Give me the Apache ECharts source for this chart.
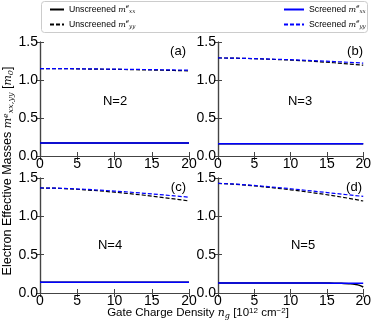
<!DOCTYPE html>
<html>
<head>
<meta charset="utf-8">
<script src="https://cdn.jsdelivr.net/npm/echarts@6/dist/echarts.min.js"></script>
<style>
  html, body { margin: 0; padding: 0; background: #fff; }
  #massChart { width: 374px; height: 324px; }
</style>
</head>
<body>
<div id="massChart"></div>
<script>
// gate charge density (10^12 cm^-2)
const gateDensity = [0, 2, 4, 6, 8, 10, 12, 14, 16, 18, 20];
const gateDensityFine = [0, 2, 4, 6, 8, 10, 12, 14, 16, 17, 18, 19, 19.5, 20];

const panelLabels = ['(a)', '(b)', '(c)', '(d)'];
const layerLabels = ['N=2', 'N=3', 'N=4', 'N=5'];

// N=2
const unscrXX2 = [0.17, 0.17, 0.17, 0.17, 0.17, 0.17, 0.17, 0.17, 0.17, 0.17, 0.17];
const unscrYY2 = [1.15, 1.15, 1.148, 1.145, 1.142, 1.14, 1.137, 1.133, 1.13, 1.125, 1.12];
const scrXX2 = [0.17, 0.17, 0.17, 0.17, 0.17, 0.17, 0.17, 0.17, 0.17, 0.17, 0.17];
const scrYY2 = [1.15, 1.15, 1.149, 1.147, 1.145, 1.143, 1.14, 1.138, 1.135, 1.132, 1.13];
// N=3
const unscrXX3 = [0.16, 0.16, 0.16, 0.16, 0.16, 0.16, 0.16, 0.16, 0.16, 0.16, 0.16];
const unscrYY3 = [1.29, 1.288, 1.283, 1.277, 1.27, 1.262, 1.252, 1.24, 1.227, 1.21, 1.195];
const scrXX3 = [0.16, 0.16, 0.16, 0.16, 0.16, 0.16, 0.16, 0.16, 0.16, 0.16, 0.16];
const scrYY3 = [1.29, 1.288, 1.284, 1.279, 1.273, 1.267, 1.26, 1.252, 1.243, 1.233, 1.222];
// N=4
const unscrXX4 = [0.14, 0.14, 0.14, 0.14, 0.14, 0.14, 0.14, 0.14, 0.14, 0.14, 0.14];
const unscrYY4 = [1.37, 1.367, 1.358, 1.346, 1.332, 1.315, 1.296, 1.275, 1.252, 1.228, 1.20];
const scrXX4 = [0.14, 0.14, 0.14, 0.14, 0.14, 0.14, 0.14, 0.14, 0.14, 0.14, 0.14];
const scrYY4 = [1.37, 1.368, 1.362, 1.353, 1.342, 1.33, 1.316, 1.3, 1.284, 1.267, 1.25];
// N=5 (unscreened xx uses the finer x grid)
const unscrXX5 = [0.13, 0.13, 0.13, 0.13, 0.13, 0.13, 0.13, 0.13, 0.128, 0.126, 0.122, 0.112, 0.1, 0.078];
const unscrYY5 = [1.43, 1.42, 1.405, 1.388, 1.368, 1.346, 1.322, 1.296, 1.268, 1.236, 1.20];
const scrXX5 = [0.13, 0.13, 0.13, 0.13, 0.13, 0.13, 0.13, 0.129, 0.128, 0.127, 0.126];
const scrYY5 = [1.43, 1.423, 1.41, 1.395, 1.378, 1.36, 1.34, 1.32, 1.3, 1.28, 1.26];

const panels = [
  { uxx: unscrXX2, uyy: unscrYY2, sxx: scrXX2, syy: scrYY2, uxxX: gateDensity },
  { uxx: unscrXX3, uyy: unscrYY3, sxx: scrXX3, syy: scrYY3, uxxX: gateDensity },
  { uxx: unscrXX4, uyy: unscrYY4, sxx: scrXX4, syy: scrYY4, uxxX: gateDensity },
  { uxx: unscrXX5, uyy: unscrYY5, sxx: scrXX5, syy: scrYY5, uxxX: gateDensityFine }
];

const grids = [
  { left: 40, top: 42, width: 149, height: 114 },
  { left: 218, top: 42, width: 147, height: 114 },
  { left: 40, top: 178, width: 149, height: 115 },
  { left: 218, top: 178, width: 147, height: 115 }
];

const FONT = 'Liberation Sans, Arial, sans-serif';
const MATH = 'DejaVu Serif, serif';
const frameColor = '#444';

const richMath = {
  m: { fontFamily: MATH, fontStyle: 'italic', fontSize: 8, color: '#000' },
  sup: { fontFamily: MATH, fontStyle: 'italic', fontSize: 5.5, color: '#000', verticalAlign: 'top', padding: [0, 0, 4, 0] },
  sub: { fontFamily: MATH, fontStyle: 'italic', fontSize: 5.5, color: '#000', verticalAlign: 'bottom', padding: [3, 0, 0, 0] }
};
const richAxis = {
  m: { fontFamily: MATH, fontStyle: 'italic', fontSize: 11, color: '#000' },
  sup: { fontFamily: FONT, fontSize: 8, color: '#000', verticalAlign: 'top', padding: [0, 0, 5, 0] },
  supi: { fontFamily: MATH, fontStyle: 'italic', fontSize: 8, color: '#000', verticalAlign: 'top', padding: [0, 0, 5, 0] },
  sub: { fontFamily: MATH, fontStyle: 'italic', fontSize: 8, color: '#000', verticalAlign: 'bottom', padding: [4, 0, 0, 0] }
};

const names = {
  uxx: 'Unscreened xx',
  uyy: 'Unscreened yy',
  sxx: 'Screened xx',
  syy: 'Screened yy'
};
const legendText = {
  'Unscreened xx': 'Unscreened {m|m}{sup|e}{sub|xx}',
  'Unscreened yy': 'Unscreened {m|m}{sup|e}{sub|yy}',
  'Screened xx': 'Screened {m|m}{sup|e}{sub|xx}',
  'Screened yy': 'Screened {m|m}{sup|e}{sub|yy}'
};

function pairs(xs, ys) {
  return ys.map((y, i) => [xs[i], y]);
}

const xAxes = [];
const yAxes = [];
grids.forEach((g, i) => {
  xAxes.push({
    type: 'value', gridIndex: i, position: 'bottom', min: 0, max: 20, interval: 5,
    axisLine: { lineStyle: { color: frameColor, width: 1.2 } },
    axisTick: { inside: true, length: 4, lineStyle: { color: frameColor } },
    axisLabel: { color: '#000', fontFamily: FONT, fontSize: 14, margin: 1 },
    splitLine: { show: false }
  });
  yAxes.push({
    type: 'value', gridIndex: i, position: 'left', min: 0, max: 1.5, interval: 0.5,
    axisLine: { show: true, lineStyle: { color: frameColor, width: 1.2 } },
    axisTick: { show: true, inside: true, length: 4, lineStyle: { color: frameColor } },
    axisLabel: { color: '#000', fontFamily: FONT, fontSize: 14, margin: 2, formatter: v => v.toFixed(1) },
    splitLine: { show: false }
  });
});
grids.forEach((g, i) => {
  xAxes.push({
    type: 'value', gridIndex: i, position: 'top', min: 0, max: 20, interval: 5,
    axisLine: { lineStyle: { color: frameColor, width: 1.2 } },
    axisTick: { inside: true, length: 4, lineStyle: { color: frameColor } },
    axisLabel: { show: false },
    splitLine: { show: false }
  });
  yAxes.push({
    type: 'value', gridIndex: i, position: 'right', min: 0, max: 1.5, interval: 0.5,
    axisLine: { show: true, lineStyle: { color: frameColor, width: 1.2 } },
    axisTick: { show: true, inside: true, length: 4, lineStyle: { color: frameColor } },
    axisLabel: { show: false },
    splitLine: { show: false }
  });
});

const series = [];
panels.forEach((p, i) => {
  const base = { type: 'line', xAxisIndex: i, yAxisIndex: i, symbol: 'none', animation: false };
  series.push(Object.assign({}, base, {
    name: names.uxx, data: pairs(p.uxxX, p.uxx), smooth: true,
    lineStyle: { color: '#000', width: 1.5 }, itemStyle: { color: '#000' }
  }));
  series.push(Object.assign({}, base, {
    name: names.uyy, data: pairs(gateDensity, p.uyy),
    lineStyle: { color: '#000', width: 1.2, type: [4, 2] }, itemStyle: { color: '#000' }
  }));
  series.push(Object.assign({}, base, {
    name: names.sxx, data: pairs(gateDensity, p.sxx),
    lineStyle: { color: '#0000ff', width: 1.5 }, itemStyle: { color: '#0000ff' }
  }));
  series.push(Object.assign({}, base, {
    name: names.syy, data: pairs(gateDensity, p.syy),
    lineStyle: { color: '#0000ff', width: 1.2, type: [4, 2] }, itemStyle: { color: '#0000ff' }
  }));
});

const legendBase = {
  orient: 'vertical', top: 4, itemHeight: 10, itemGap: 4, padding: 0,
  selectedMode: false,
  itemStyle: { opacity: 0 },
  formatter: name => legendText[name],
  textStyle: { fontFamily: FONT, fontSize: 8.7, color: '#000', lineHeight: 11, rich: richMath }
};

const graphics = [
  { type: 'rect', left: 41, top: 1, shape: { width: 326, height: 31, r: 3 },
    style: { fill: '#fff', stroke: '#ccc', lineWidth: 1 }, z: -1 }
];
const labelPos = [
  { tag: [186, 51], n: [115, 101] },
  { tag: [363, 51], n: [300, 101] },
  { tag: [186, 187], n: [110, 245] },
  { tag: [362, 187], n: [303, 245] }
];
labelPos.forEach((pp, i) => {
  graphics.push({ type: 'text', x: pp.tag[0], y: pp.tag[1],
    style: { text: panelLabels[i], font: '13px ' + FONT, fill: '#000', align: 'right', verticalAlign: 'middle' } });
  graphics.push({ type: 'text', x: pp.n[0], y: pp.n[1],
    style: { text: layerLabels[i], font: '13px ' + FONT, fill: '#000', align: 'center', verticalAlign: 'middle' } });
});
graphics.push({
  type: 'text', x: 8, y: 171, rotation: Math.PI / 2,
  style: {
    text: 'Electron Effective Masses {m|m}{supi|e}{sub|xx,yy} [{m|m}{sub|0}]',
    fontFamily: FONT, fontSize: 12.5, fill: '#000', align: 'center', verticalAlign: 'middle',
    rich: richAxis
  }
});
graphics.push({
  type: 'text', x: 198, y: 313,
  style: {
    text: 'Gate Charge Density {m|n}{sub|g} [10{sup|12} cm{sup|−2}]',
    fontFamily: FONT, fontSize: 11.5, fill: '#000', align: 'center', verticalAlign: 'middle',
    rich: richAxis
  }
});

const myChart = echarts.init(document.getElementById('massChart'), null, { renderer: 'canvas' });
const option = {
  backgroundColor: '#fff',
  animation: false,
  grid: grids.map(g => Object.assign({ containLabel: false }, g)),
  xAxis: xAxes,
  yAxis: yAxes,
  legend: [
    Object.assign({}, legendBase, { left: 49, itemWidth: 14, data: [names.uxx, names.uyy] }),
    Object.assign({}, legendBase, { left: 283, itemWidth: 20, data: [names.sxx, names.syy] })
  ],
  graphic: graphics,
  series: series
};
myChart.setOption(option);
</script>
</body>
</html>
